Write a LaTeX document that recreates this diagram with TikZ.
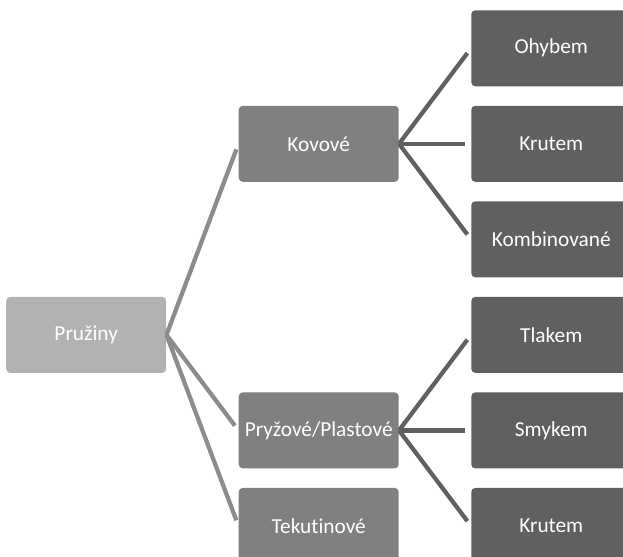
\documentclass[tikz,border=0pt]{standalone}
\usepackage{fontspec}
\setmainfont{Carlito}[Ligatures=NoCommon]
\usetikzlibrary{positioning}
\definecolor{rootgray}{RGB}{178,178,178}
\definecolor{midgray}{RGB}{128,128,128}
\definecolor{leafgray}{RGB}{96,96,96}
\definecolor{linkgray}{RGB}{140,140,140}
\tikzset{
  tree-box/.style={rounded corners=3pt, minimum width=120pt, minimum height=57pt,
    text=white, font=\fontsize{16}{19}\selectfont, inner sep=2pt, align=center},
  root-box/.style={tree-box, fill=rootgray},
  mid-box/.style={tree-box, fill=midgray},
  leaf-box/.style={tree-box, fill=leafgray},
  tree-link/.style={line width=3.2pt, draw=linkgray, shorten >=4.5pt},
  leaf-link/.style={tree-link, draw=leafgray}
}

\begin{document}
\begin{tikzpicture}[x=0.75pt, y=-0.75pt, node distance=14.25pt and 54pt]
\clip (0,0) rectangle (623,556);

% Leaf column on the right
\node[leaf-box, anchor=north west] (ohybem) at (471,10) {Ohybem};
\node[leaf-box, below=of ohybem] (krutem) {Krutem};
\node[leaf-box, below=of krutem] (kombinovane) {Kombinované};
\node[leaf-box, below=of kombinovane] (tlakem) {Tlakem};
\node[leaf-box, below=of tlakem] (smykem) {Smykem};
\node[leaf-box, below=of smykem] (krutemB) {Krutem};

% Middle column
\node[mid-box, left=of krutem] (kovove) {Kovové};
\node[mid-box, left=of smykem] (pryzove) {Pryžové/Plastové};
\node[mid-box, left=of krutemB] (tekutinove) {Tekutinové};

% Root, one column further left
\coordinate (rootslot) at (kovove.west |- tlakem);
\node[root-box, left=of rootslot] (pruziny) {Pružiny};

% Links from the root
\foreach \child in {kovove, pryzove, tekutinove}
  \draw[tree-link] (pruziny.east) -- (\child.west);

% Links to the leaves
\foreach \leaf in {ohybem, krutem, kombinovane}
  \draw[leaf-link] (kovove.east) -- (\leaf.west);
\foreach \leaf in {tlakem, smykem, krutemB}
  \draw[leaf-link] (pryzove.east) -- (\leaf.west);
\end{tikzpicture}
\end{document}
